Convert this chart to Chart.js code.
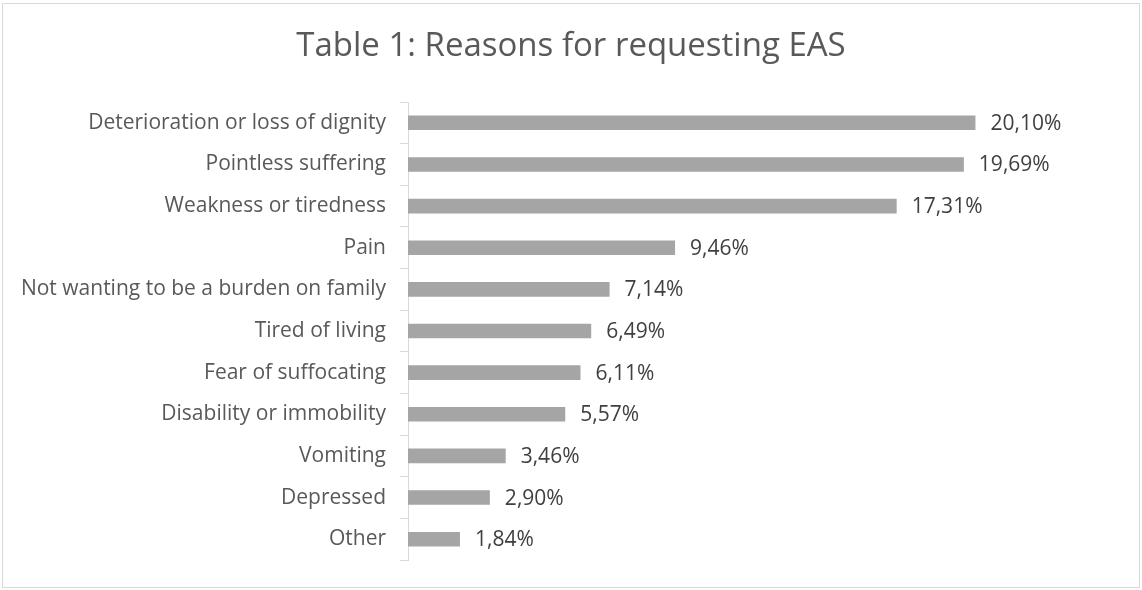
<!DOCTYPE html>
<html>
<head>
<meta charset="utf-8">
<script src="https://cdn.jsdelivr.net/npm/chart.js@4.4.1/dist/chart.umd.min.js"></script>
<style>
  html, body { margin: 0; padding: 0; background: #fff; }
  #wrap { width: 1142px; height: 590px; position: relative; }
</style>
</head>
<body>
<div id="wrap"><canvas id="chart"></canvas></div>
<script>
// Reasons for requesting EAS (share of mentions, %)
const reasons = [
  'Deterioration or loss of dignity',
  'Pointless suffering',
  'Weakness or tiredness',
  'Pain',
  'Not wanting to be a burden on family',
  'Tired of living',
  'Fear of suffocating',
  'Disability or immobility',
  'Vomiting',
  'Depressed',
  'Other'
];
const shares = [20.10, 19.69, 17.31, 9.46, 7.14, 6.49, 6.11, 5.57, 3.46, 2.90, 1.84];
const chartTitle = 'Table 1: Reasons for requesting EAS';

const FONT = "'Open Sans', 'Liberation Sans', sans-serif";

function fmtPct(v) {
  return v.toFixed(2).replace('.', ',') + '%';
}

// light grey frame round the whole chart
const framePlugin = {
  id: 'frame',
  beforeDraw(chart) {
    const ctx = chart.ctx;
    ctx.save();
    ctx.fillStyle = '#ffffff';
    ctx.fillRect(0, 0, chart.width, chart.height);
    ctx.strokeStyle = '#d9d9d9';
    ctx.lineWidth = 1;
    ctx.strokeRect(2.5, 3.5, 1137, 584);
    ctx.restore();
  }
};

// value labels to the right of each bar
const valueLabels = {
  id: 'valueLabels',
  afterDatasetsDraw(chart) {
    const ctx = chart.ctx;
    const meta = chart.getDatasetMeta(0);
    ctx.save();
    ctx.font = '21px ' + FONT;
    ctx.fillStyle = '#404040';
    ctx.textAlign = 'left';
    ctx.textBaseline = 'middle';
    meta.data.forEach((bar, i) => {
      ctx.fillText(fmtPct(shares[i]), bar.x + 15, bar.y + 1);
    });
    ctx.restore();
  }
};

new Chart(document.getElementById('chart'), {
  type: 'bar',
  data: {
    labels: reasons,
    datasets: [{
      data: shares,
      backgroundColor: '#a5a5a5',
      borderWidth: 0,
      categoryPercentage: 1,
      barPercentage: 0.35
    }]
  },
  options: {
    indexAxis: 'y',
    responsive: true,
    maintainAspectRatio: false,
    animation: false,
    layout: {
      padding: { left: 0, right: 0, bottom: 30, top: 0 }
    },
    scales: {
      x: {
        display: false,
        min: 0,
        max: 26
      },
      y: {
        afterFit(scale) { scale.width = 408; },
        grid: {
          display: true,
          drawOnChartArea: false,
          tickLength: 8,
          color: '#d9d9d9'
        },
        border: { color: '#d9d9d9' },
        ticks: {
          padding: 14,
          color: '#595959',
          font: { family: FONT, size: 21 }
        }
      }
    },
    plugins: {
      legend: { display: false },
      tooltip: { enabled: false },
      title: {
        display: true,
        text: chartTitle,
        color: '#595959',
        font: { family: FONT, size: 33, weight: 'normal' },
        padding: { top: 27, bottom: 35.4 }
      }
    }
  },
  plugins: [framePlugin, valueLabels]
});
</script>
</body>
</html>
